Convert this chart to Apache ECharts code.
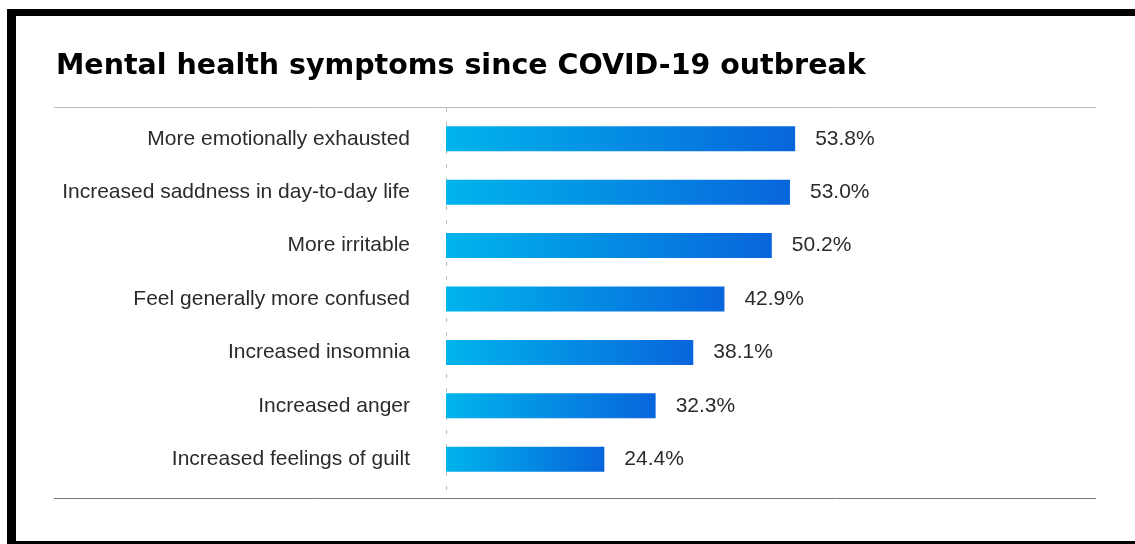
<!DOCTYPE html>
<html>
<head>
<meta charset="utf-8">
<style>html,body{margin:0;padding:0;background:#fff;}#c{width:1135px;height:544px;}</style>
<script src="https://cdn.jsdelivr.net/npm/echarts@6/dist/echarts.min.js"></script>
</head>
<body>
<div id="c"></div>
<script>
const categories = [
  "More emotionally exhausted",
  "Increased saddness in day-to-day life",
  "More irritable",
  "Feel generally more confused",
  "Increased insomnia",
  "Increased anger",
  "Increased feelings of guilt"
];
const values = [53.8, 53.0, 50.2, 42.9, 38.1, 32.3, 24.4];
const titleText = "Mental health symptoms since COVID-19 outbreak";

const chart = echarts.init(document.getElementById('c'), null, {renderer: 'canvas'});
chart.setOption({
  backgroundColor: '#fff',
  animation: false,
  title: {
    text: titleText,
    left: 51,
    top: 47,
    textStyle: {fontFamily: 'DejaVu Sans', fontWeight: 'bold', fontSize: 28.5, color: '#000'}
  },
  grid: {left: 446, right: 40, top: 112, height: 374, containLabel: false},
  xAxis: {
    type: 'value', min: 0, max: 100,
    show: false
  },
  yAxis: {
    type: 'category',
    data: categories,
    inverse: true,
    axisLine: {show: false},
    axisTick: {show: false},
    axisLabel: {
      margin: 36,
      fontFamily: 'Liberation Sans',
      fontSize: 21,
      color: '#2b2b2b'
    }
  },
  series: [{
    type: 'bar',
    data: values,
    barWidth: 25,
    itemStyle: {
      color: new echarts.graphic.LinearGradient(0, 0, 1, 0, [
        {offset: 0, color: '#00b4ec'},
        {offset: 1, color: '#0865db'}
      ])
    },
    label: {
      show: true,
      position: 'right',
      distance: 20,
      fontFamily: 'Liberation Sans',
      fontSize: 21,
      color: '#2b2b2b',
      formatter: p => p.value.toFixed(1) + '%'
    }
  }],
  graphic: [
    {type: 'rect', shape: {x: 7, y: 9, width: 1128, height: 7}, style: {fill: '#000'}, silent: true},
    {type: 'rect', shape: {x: 7, y: 9, width: 9, height: 535}, style: {fill: '#000'}, silent: true},
    {type: 'rect', shape: {x: 7, y: 541, width: 1128, height: 3}, style: {fill: '#000'}, silent: true},
    {type: 'line', shape: {x1: 54, y1: 107.5, x2: 1096, y2: 107.5}, style: {stroke: '#bbb', lineWidth: 1}, silent: true},
    {type: 'line', shape: {x1: 54, y1: 498.5, x2: 1096, y2: 498.5}, style: {stroke: '#777', lineWidth: 1}, silent: true},
    {type: 'line', shape: {x1: 446.5, y1: 108, x2: 446.5, y2: 498}, style: {stroke: '#bbb', lineWidth: 1, lineDash: [4, 10]}, silent: true, z: -1}
  ]
});
</script>
</body>
</html>
